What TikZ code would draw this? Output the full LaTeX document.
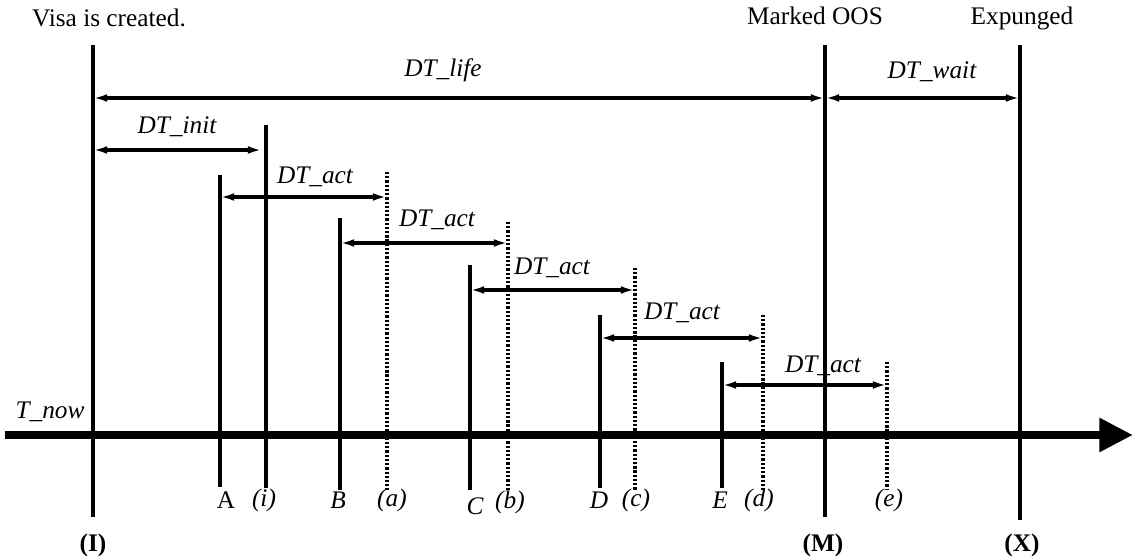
\documentclass[tikz,border=0pt]{standalone}
\usepackage{fontspec}
\setmainfont{Liberation Serif}
\usetikzlibrary{arrows.meta}

\newcommand{\figfont}{\fontsize{18}{20}\selectfont}

\tikzset{
  evline/.style={line width=2.2pt},
  dotline/.style={line width=2.2pt, dash pattern=on 1.6pt off 1.4pt},
  dimarrow/.style={line width=2.4pt, {Latex[length=10pt,width=5.5pt]}-{Latex[length=10pt,width=5.5pt]}},
  lbl/.style={font=\figfont\itshape, inner sep=0pt},
  evlbl/.style={font=\figfont\bfseries, inner sep=0pt}
}

\begin{document}
\begin{tikzpicture}[x=0.025cm, y=-0.025cm, font=\figfont]

    \useasboundingbox (0,0) rectangle (1140,557);

    % Zeitachse
    \coordinate (axL) at (5,435);
    \coordinate (axR) at (1133,435);
    \draw[line width=5.8pt, -{Triangle[length=24pt,width=23pt]}] (axL) -- (axR);
    \node[lbl] (tnow) at (50,412) {T\_now};

    % Hauptereignisse (I), (M), (X)
    \coordinate (Itop) at (93,45);   \coordinate (Ibot) at (93,517);
    \coordinate (Mtop) at (825,45);  \coordinate (Mbot) at (825,517);
    \coordinate (Xtop) at (1020,45); \coordinate (Xbot) at (1020,520);
    \draw[evline] (Itop) -- (Ibot);
    \draw[evline] (Mtop) -- (Mbot);
    \draw[evline] (Xtop) -- (Xbot);

    \node[anchor=base, inner sep=0pt] (created) at (109,27) {Visa is created.};
    \node[anchor=base, inner sep=0pt] (oos) at (815,25) {Marked OOS};
    \node[anchor=base, inner sep=0pt] (expunged) at (1022,25) {Expunged};
    \node[evlbl] (labI) at (93,545) {(I)};
    \node[evlbl] (labM) at (823,545) {(M)};
    \node[evlbl] (labX) at (1022,545) {(X)};

    % DT_life und DT_wait
    \coordinate (lifeL) at (93,98);
    \coordinate (lifeR) at (825,98);
    \coordinate (waitR) at (1020,98);
    \draw[dimarrow] (lifeL) -- (lifeR);
    \draw[dimarrow] (lifeR) -- (waitR);
    \node[lbl] (life) at (443,70) {DT\_life};
    \node[lbl] (wait) at (932,72) {DT\_wait};

    % DT_init bis (i)
    \coordinate (itop) at (266,125); \coordinate (ibot) at (266,488);
    \draw[evline] (itop) -- (ibot);
    \coordinate (initL) at (93,150);
    \coordinate (initR) at (262,150);
    \draw[dimarrow] (initL) -- (initR);
    \node[lbl] (init) at (177,127) {DT\_init};
    \node[lbl] (labi) at (264,500) {(i)};

    % Aktivitaeten A bis E mit Ablauf (a) bis (e)
    \coordinate (Atop) at (220,175); \coordinate (Abot) at (220,487);
    \coordinate (atop) at (387,172); \coordinate (abot) at (387,490);
    \draw[evline] (Atop) -- (Abot);
    \draw[dotline] (atop) -- (abot);
    \draw[dimarrow] (220,197) -- (387,197);
    \node[lbl] (actA) at (315,177) {DT\_act};
    \node[inner sep=0pt] (labA) at (226,500) {A};
    \node[lbl] (laba) at (392,500) {(a)};

    \coordinate (Btop) at (340,218); \coordinate (Bbot) at (340,490);
    \coordinate (btop) at (508,222); \coordinate (bbot) at (508,490);
    \draw[evline] (Btop) -- (Bbot);
    \draw[dotline] (btop) -- (bbot);
    \draw[dimarrow] (340,243) -- (508,243);
    \node[lbl] (actB) at (437,220) {DT\_act};
    \node[lbl] (labB) at (338,500) {B};
    \node[lbl] (labb) at (510,502) {(b)};

    \coordinate (Ctop) at (470,265); \coordinate (Cbot) at (470,490);
    \coordinate (ctop) at (635,268); \coordinate (cbot) at (635,490);
    \draw[evline] (Ctop) -- (Cbot);
    \draw[dotline] (ctop) -- (cbot);
    \draw[dimarrow] (470,290) -- (635,290);
    \node[lbl] (actC) at (552,268) {DT\_act};
    \node[lbl] (labC) at (475,506) {C};
    \node[lbl] (labc) at (636,500) {(c)};

    \coordinate (Dtop) at (600,315); \coordinate (Dbot) at (600,488);
    \coordinate (dtop) at (763,315); \coordinate (dbot) at (763,490);
    \draw[evline] (Dtop) -- (Dbot);
    \draw[dotline] (dtop) -- (dbot);
    \draw[dimarrow] (600,338) -- (763,338);
    \node[lbl] (actD) at (682,313) {DT\_act};
    \node[lbl] (labD) at (599,500) {D};
    \node[lbl] (labd) at (759,500) {(d)};

    \coordinate (Etop) at (722,362); \coordinate (Ebot) at (722,488);
    \coordinate (etop) at (887,362); \coordinate (ebot) at (887,490);
    \draw[evline] (Etop) -- (Ebot);
    \draw[dotline] (etop) -- (ebot);
    \draw[dimarrow] (722,385) -- (887,385);
    \node[lbl] (actE) at (823,366) {DT\_act};
    \node[lbl] (labE) at (720,500) {E};
    \node[lbl] (labe) at (889,500) {(e)};

\end{tikzpicture}
\end{document}
